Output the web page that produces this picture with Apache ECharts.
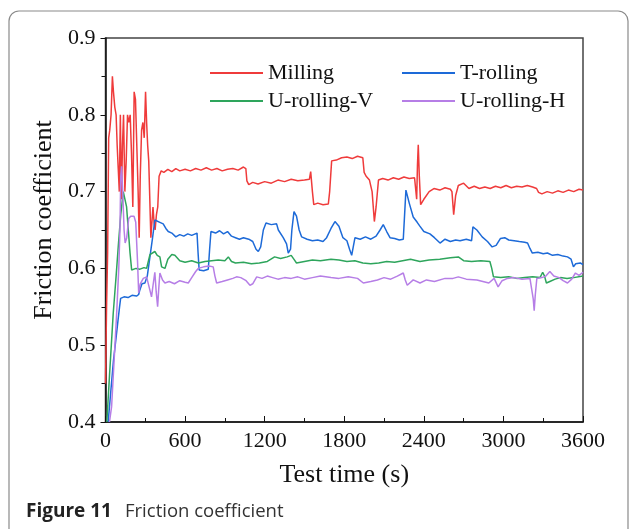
<!DOCTYPE html>
<html>
<head>
<meta charset="utf-8">
<script src="https://cdn.jsdelivr.net/npm/echarts@6/dist/echarts.min.js"></script>
<style>html,body{margin:0;padding:0;background:#fff;}#c{width:630px;height:529px;}</style>
</head>
<body>
<div id="c"></div>
<script>
var seriesNames = ['Milling', 'T-rolling', 'U-rolling-V', 'U-rolling-H'];
var xTicks = [0, 600, 1200, 1800, 2400, 3000, 3600];
var yTicks = [0.4, 0.5, 0.6, 0.7, 0.8, 0.9];

var millingTime = [0,8,16,24,32,42,52,60,70,80,88,96,104,112,120,128,136,146,156,166,176,186,196,206,216,226,236,246,254,262,272,282,292,302,310,318,326,334,342,350,358,366,374,384,394,404,420,440,470,500,530,560,600,640,680,720,760,800,840,880,920,960,1000,1040,1058,1066,1080,1110,1150,1200,1250,1300,1350,1400,1450,1500,1537,1547,1560,1570,1600,1640,1680,1690,1705,1740,1780,1820,1860,1900,1940,1950,1965,1990,2010,2027,2040,2058,2090,2130,2170,2210,2250,2290,2330,2340,2346,2352,2358,2366,2376,2400,2440,2476,2520,2560,2600,2612,2625,2640,2660,2700,2740,2780,2820,2860,2900,2940,2980,3020,3060,3100,3140,3180,3220,3250,3265,3290,3330,3370,3410,3450,3490,3530,3570,3600];
var millingValue = [0.45,0.55,0.62,0.77,0.78,0.80,0.85,0.83,0.81,0.80,0.76,0.73,0.70,0.80,0.69,0.76,0.80,0.70,0.74,0.80,0.79,0.80,0.75,0.68,0.83,0.82,0.76,0.70,0.64,0.72,0.78,0.79,0.77,0.83,0.79,0.76,0.74,0.69,0.64,0.66,0.68,0.66,0.65,0.67,0.68,0.72,0.727,0.725,0.729,0.726,0.730,0.727,0.729,0.727,0.730,0.728,0.731,0.728,0.730,0.727,0.729,0.730,0.728,0.732,0.730,0.714,0.709,0.712,0.710,0.713,0.711,0.715,0.713,0.716,0.714,0.715,0.716,0.726,0.700,0.683,0.685,0.683,0.684,0.700,0.740,0.741,0.744,0.745,0.743,0.746,0.744,0.725,0.720,0.715,0.700,0.661,0.680,0.715,0.717,0.715,0.718,0.716,0.719,0.717,0.718,0.716,0.690,0.735,0.761,0.720,0.683,0.690,0.700,0.704,0.702,0.705,0.703,0.700,0.670,0.695,0.708,0.711,0.704,0.707,0.704,0.706,0.704,0.707,0.705,0.708,0.705,0.707,0.706,0.708,0.706,0.704,0.699,0.697,0.700,0.698,0.701,0.699,0.702,0.700,0.703,0.702];

var tRollingTime = [20,40,60,80,96,106,114,140,170,200,234,250,259,275,297,315,335,355,372,385,410,435,455,473,500,530,560,590,620,650,690,698,706,740,775,785,795,830,860,890,920,950,980,1010,1040,1080,1110,1135,1152,1170,1190,1210,1250,1290,1303,1340,1365,1378,1395,1405,1421,1440,1460,1479,1520,1560,1600,1640,1667,1700,1730,1760,1790,1820,1840,1856,1870,1881,1920,1960,2000,2040,2070,2094,2120,2145,2180,2215,2245,2255,2265,2290,2320,2350,2370,2400,2446,2480,2522,2560,2600,2640,2673,2720,2760,2770,2800,2840,2880,2915,2945,2978,3010,3040,3081,3120,3160,3182,3200,3218,3260,3300,3332,3370,3410,3450,3483,3510,3528,3545,3560,3580,3600];
var tRollingValue = [0.40,0.44,0.48,0.51,0.535,0.55,0.561,0.563,0.562,0.565,0.564,0.566,0.572,0.580,0.581,0.590,0.615,0.640,0.663,0.664,0.660,0.658,0.652,0.648,0.646,0.641,0.644,0.642,0.645,0.643,0.646,0.620,0.598,0.597,0.599,0.625,0.648,0.646,0.649,0.645,0.648,0.642,0.640,0.638,0.640,0.638,0.635,0.625,0.622,0.628,0.650,0.659,0.657,0.658,0.650,0.640,0.632,0.620,0.625,0.650,0.674,0.668,0.650,0.641,0.638,0.636,0.637,0.635,0.640,0.652,0.661,0.655,0.640,0.636,0.625,0.617,0.630,0.640,0.638,0.641,0.638,0.642,0.650,0.657,0.648,0.640,0.639,0.637,0.638,0.670,0.702,0.685,0.667,0.660,0.655,0.648,0.645,0.640,0.633,0.638,0.635,0.637,0.636,0.638,0.636,0.654,0.650,0.641,0.635,0.628,0.630,0.639,0.640,0.637,0.636,0.635,0.634,0.633,0.626,0.620,0.621,0.619,0.620,0.617,0.618,0.616,0.615,0.612,0.602,0.606,0.604,0.607,0.605];

var uRollingVTime = [10,30,58,80,96,115,134,146,159,172,185,197,230,260,290,310,335,372,390,410,423,448,470,500,523,560,600,650,700,750,800,850,900,926,950,980,1040,1100,1160,1220,1275,1320,1370,1400,1420,1440,1500,1560,1620,1700,1760,1820,1880,1940,2000,2060,2120,2180,2240,2300,2371,2440,2520,2600,2660,2700,2760,2830,2898,2912,2925,2980,3040,3100,3160,3220,3276,3296,3310,3324,3350,3390,3430,3480,3530,3600];
var uRollingVValue = [0.40,0.46,0.541,0.59,0.628,0.67,0.70,0.70,0.68,0.65,0.62,0.598,0.600,0.599,0.601,0.600,0.618,0.622,0.617,0.615,0.602,0.600,0.612,0.618,0.617,0.610,0.608,0.610,0.607,0.609,0.610,0.611,0.610,0.615,0.609,0.607,0.608,0.606,0.607,0.609,0.615,0.613,0.615,0.617,0.612,0.607,0.609,0.611,0.610,0.612,0.611,0.609,0.610,0.607,0.606,0.607,0.609,0.608,0.610,0.612,0.609,0.611,0.612,0.614,0.615,0.610,0.609,0.610,0.609,0.600,0.589,0.588,0.589,0.587,0.588,0.589,0.588,0.595,0.590,0.581,0.583,0.586,0.588,0.587,0.588,0.590];

var uRollingHTime = [30,46,65,84,100,109,115,121,130,140,148,160,175,190,215,228,242,250,262,285,310,330,347,360,372,382,393,402,410,430,448,480,520,560,600,624,650,680,699,740,780,812,825,838,880,920,960,988,1020,1060,1089,1110,1140,1180,1220,1260,1300,1350,1400,1450,1500,1560,1620,1700,1760,1830,1900,1944,2000,2050,2100,2150,2200,2245,2260,2275,2320,2371,2420,2480,2560,2620,2660,2720,2800,2890,2930,2960,2990,3030,3080,3140,3200,3213,3225,3232,3240,3252,3290,3320,3350,3380,3420,3450,3483,3515,3543,3570,3600];
var uRollingHValue = [0.40,0.42,0.48,0.541,0.60,0.65,0.72,0.733,0.70,0.650,0.633,0.640,0.665,0.668,0.668,0.660,0.607,0.568,0.580,0.587,0.589,0.575,0.563,0.580,0.595,0.570,0.550,0.575,0.594,0.585,0.581,0.583,0.580,0.584,0.582,0.581,0.588,0.596,0.600,0.602,0.603,0.602,0.590,0.581,0.583,0.585,0.587,0.589,0.588,0.584,0.578,0.580,0.589,0.587,0.590,0.588,0.586,0.588,0.587,0.589,0.586,0.588,0.590,0.588,0.587,0.589,0.587,0.581,0.583,0.585,0.588,0.586,0.590,0.594,0.585,0.578,0.585,0.581,0.585,0.583,0.587,0.587,0.589,0.586,0.585,0.581,0.587,0.576,0.584,0.587,0.588,0.586,0.587,0.586,0.560,0.545,0.565,0.587,0.588,0.590,0.596,0.590,0.588,0.584,0.581,0.586,0.594,0.591,0.595];

function zip(t, v) { return t.map(function (x, i) { return [x, v[i]]; }); }

var colors = ['#ef3b3b', '#1d6ad8', '#2ea55c', '#b67ee6'];
var serif = '"Liberation Serif", "Times New Roman", serif';

var chart = echarts.init(document.getElementById('c'), null, { renderer: 'canvas' });
var seriesData = [zip(millingTime, millingValue), zip(tRollingTime, tRollingValue), zip(uRollingVTime, uRollingVValue), zip(uRollingHTime, uRollingHValue)];

chart.setOption({
  animation: false,
  backgroundColor: '#fff',
  color: colors,
  grid: { left: 105.5, right: 47, top: 38, bottom: 107, show: true, borderColor: '#444', borderWidth: 1.5, backgroundColor: 'transparent' },
  legend: {
    left: 205, top: 55, width: 390,
    itemWidth: 53, itemHeight: 2, itemGap: 2,
    icon: 'rect',
    data: seriesNames,
    textStyle: { fontFamily: serif, fontSize: 22, color: '#111', width: 132, lineHeight: 26 }
  },
  xAxis: {
    type: 'value', min: xTicks[0], max: xTicks[xTicks.length - 1], interval: 600,
    name: 'Test time (s)', nameLocation: 'middle', nameGap: 40,
    nameTextStyle: { fontFamily: serif, fontSize: 26, color: '#111' },
    axisLine: { show: true, lineStyle: { color: '#111', width: 1.5 } },
    axisTick: { show: true, inside: true, length: 6, lineStyle: { color: '#111' } },
    minorTick: { show: true, splitNumber: 2, length: 4, lineStyle: { color: '#111' } },
    splitLine: { show: false },
    axisLabel: { fontFamily: serif, fontSize: 22, color: '#111', margin: 8, formatter: function (v) { return String(v); } }
  },
  yAxis: {
    type: 'value', min: yTicks[0], max: yTicks[yTicks.length - 1], interval: 0.1,
    name: 'Friction coefficient', nameLocation: 'middle', nameGap: 44,
    nameTextStyle: { fontFamily: serif, fontSize: 26, color: '#111', padding: [0, 0, 0, 20] },
    axisLine: { show: true, lineStyle: { color: '#111', width: 1.5 } },
    axisTick: { show: true, inside: false, length: 5, lineStyle: { color: '#111' } },
    minorTick: { show: true, splitNumber: 2, length: 4, lineStyle: { color: '#111' } },
    splitLine: { show: false },
    axisLabel: { fontFamily: serif, fontSize: 22, color: '#111', margin: 10, formatter: function (v) { return v.toFixed(1); } }
  },
  series: seriesNames.map(function (n, i) {
    return { name: n, type: 'line', data: seriesData[i], symbol: 'none', showSymbol: false, lineStyle: { width: 1.5, color: colors[i] }, itemStyle: { color: colors[i] } };
  }),
  graphic: [
    { type: 'rect', shape: { x: 9, y: 11, width: 619, height: 540, r: 10 }, style: { fill: 'none', stroke: '#8a8a8a', lineWidth: 1.2 }, silent: true },
    { type: 'text', left: 26, top: 502, style: { text: 'Figure 11', font: 'bold 19px "Open Sans", sans-serif', fill: '#222' } },
    { type: 'text', left: 125, top: 502, style: { text: 'Friction coefficient', font: '18.5px "Open Sans", sans-serif', fill: '#333' } }
  ]
});
</script>
</body>
</html>
